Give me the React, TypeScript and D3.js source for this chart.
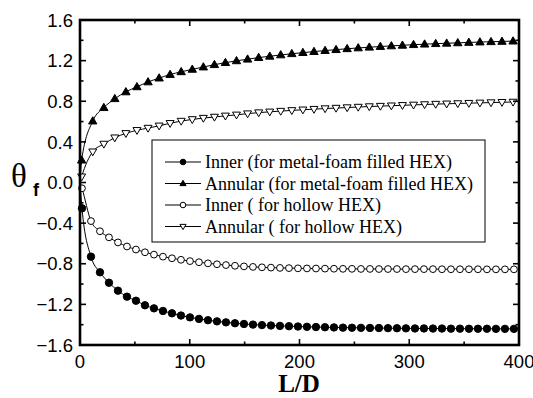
import React from "react";
import * as d3 from "d3";

const TRI_LD = [1.5, 11.6, 21.7, 31.7, 41.8, 51.9, 62.0, 72.1, 82.1, 92.2, 102.3, 112.4, 122.5, 132.5, 142.6, 152.7, 162.8, 172.9, 182.9, 193.0, 203.1, 213.2, 223.3, 233.3, 243.4, 253.5, 263.6, 273.7, 283.7, 293.8, 303.9, 314.0, 324.1, 334.1, 344.2, 354.3, 364.4, 374.5, 384.5, 394.6];
const CIRC_LD = [1.8, 10.0, 18.2, 26.4, 34.6, 42.8, 51.0, 59.2, 67.4, 75.6, 83.8, 92.0, 100.2, 108.4, 116.6, 124.8, 133.0, 141.2, 149.4, 157.6, 165.8, 174.0, 182.2, 190.4, 198.6, 206.8, 215.0, 223.2, 231.4, 239.6, 247.8, 256.0, 264.2, 272.4, 280.6, 288.8, 297.0, 305.2, 313.4, 321.6, 329.8, 338.0, 346.2, 354.4, 362.6, 370.8, 379.0, 387.2, 395.4];

const ANNULAR_FOAM = [0.22, 0.605, 0.737, 0.825, 0.892, 0.942, 0.99, 1.028, 1.063, 1.09, 1.114, 1.137, 1.16, 1.18, 1.198, 1.214, 1.23, 1.243, 1.256, 1.268, 1.279, 1.289, 1.299, 1.308, 1.317, 1.325, 1.332, 1.339, 1.345, 1.351, 1.357, 1.362, 1.367, 1.371, 1.375, 1.379, 1.383, 1.386, 1.389, 1.392];
const ANNULAR_HOLLOW = [0.057, 0.303, 0.379, 0.441, 0.484, 0.514, 0.536, 0.558, 0.583, 0.605, 0.621, 0.634, 0.645, 0.656, 0.666, 0.678, 0.688, 0.696, 0.703, 0.71, 0.716, 0.722, 0.728, 0.733, 0.738, 0.743, 0.748, 0.752, 0.756, 0.76, 0.764, 0.768, 0.772, 0.775, 0.778, 0.781, 0.784, 0.787, 0.79, 0.793];
const INNER_FOAM = [-0.254, -0.73, -0.884, -0.987, -1.065, -1.124, -1.164, -1.209, -1.239, -1.265, -1.288, -1.31, -1.328, -1.343, -1.356, -1.367, -1.377, -1.386, -1.393, -1.399, -1.404, -1.408, -1.412, -1.415, -1.418, -1.421, -1.423, -1.425, -1.427, -1.429, -1.43, -1.431, -1.432, -1.433, -1.434, -1.435, -1.436, -1.437, -1.437, -1.438, -1.438, -1.439, -1.439, -1.44, -1.44, -1.44, -1.441, -1.441, -1.441];
const INNER_HOLLOW = [-0.057, -0.38, -0.48, -0.54, -0.59, -0.63, -0.66, -0.687, -0.71, -0.73, -0.746, -0.761, -0.774, -0.785, -0.796, -0.805, -0.813, -0.82, -0.826, -0.831, -0.835, -0.838, -0.841, -0.843, -0.845, -0.846, -0.847, -0.848, -0.849, -0.85, -0.85, -0.851, -0.851, -0.852, -0.852, -0.852, -0.853, -0.853, -0.853, -0.853, -0.854, -0.854, -0.854, -0.854, -0.854, -0.855, -0.855, -0.855, -0.855];

const X_TICKS = [0, 100, 200, 300, 400];
const X_MINOR = [50, 150, 250, 350];
const Y_TICKS = [-1.6, -1.2, -0.8, -0.4, 0.0, 0.4, 0.8, 1.2, 1.6];
const Y_MINOR = [-1.4, -1.0, -0.6, -0.2, 0.2, 0.6, 1.0, 1.4];

const LEGEND = [
  { label: "Inner (for metal-foam filled HEX)", marker: "circle", filled: true },
  { label: "Annular (for metal-foam filled HEX)", marker: "tri", filled: true },
  { label: "Inner ( for hollow HEX)", marker: "circle", filled: false },
  { label: "Annular ( for hollow HEX)", marker: "tridown", filled: false },
];

const L = 80, R = 519, T = 20, B = 345;
const x = d3.scaleLinear().domain([0, 400]).range([L, R]);
const y = d3.scaleLinear().domain([-1.6, 1.6]).range([B, T]);

function Marker({ type, filled, cx, cy, s }: any) {
  const fill = filled ? "#000" : "#fff";
  if (type === "circle") return <circle cx={cx} cy={cy} r={s} fill={fill} stroke="#000" strokeWidth={1} />;
  const h = s * 1.9;
  const w = s * 2.2;
  if (type === "tri") {
    const p = `${cx},${cy - h * 0.6} ${cx - w / 2},${cy + h * 0.4} ${cx + w / 2},${cy + h * 0.4}`;
    return <polygon points={p} fill={fill} stroke="#000" strokeWidth={1} />;
  }
  const p = `${cx},${cy + h * 0.6} ${cx - w / 2},${cy - h * 0.4} ${cx + w / 2},${cy - h * 0.4}`;
  return <polygon points={p} fill={fill} stroke="#000" strokeWidth={1} />;
}

export default function App() {
  const line = d3.line<[number, number]>().x((d) => x(d[0])).y((d) => y(d[1])).curve(d3.curveMonotoneX);
  const series = [
    { xs: CIRC_LD, ys: INNER_FOAM, type: "circle", filled: true, s: 3.7 },
    { xs: TRI_LD, ys: ANNULAR_FOAM, type: "tri", filled: true, s: 3.8 },
    { xs: CIRC_LD, ys: INNER_HOLLOW, type: "circle", filled: false, s: 3.4 },
    { xs: TRI_LD, ys: ANNULAR_HOLLOW, type: "tridown", filled: false, s: 3.6 },
  ];
  const sans = "'Liberation Sans', Arial, sans-serif";
  const serif = "'Liberation Serif', 'Times New Roman', serif";
  return (
    <svg width={533} height={398} style={{ position: "absolute", left: 0, top: 0 }}>
      <rect x={0} y={0} width={533} height={398} fill="#fff" />
      {series.map((s, i) => {
        const pts: [number, number][] = [[0, 0], ...s.xs.map((v: number, j: number) => [v, s.ys[j]] as [number, number])];
        return <path key={"l" + i} d={line(pts) || ""} fill="none" stroke="#000" strokeWidth={1} />;
      })}
      {series.map((s, i) => (
        <g key={"m" + i}>
          {s.xs.map((v: number, j: number) => (
            <Marker key={j} type={s.type} filled={s.filled} cx={x(v)} cy={y(s.ys[j])} s={s.s} />
          ))}
        </g>
      ))}
      {/* frame */}
      <rect x={L} y={T} width={R - L} height={B - T} fill="none" stroke="#000" strokeWidth={2.6} />
      {X_TICKS.map((t) => (
        <g key={"xt" + t}>
          <line x1={x(t)} x2={x(t)} y1={B} y2={B - 6} stroke="#000" strokeWidth={1.6} />
          <line x1={x(t)} x2={x(t)} y1={T} y2={T + 6} stroke="#000" strokeWidth={1.6} />
          <text x={x(t)} y={368} textAnchor="middle" fontFamily={sans} fontSize={18.5}>{t}</text>
        </g>
      ))}
      {X_MINOR.map((t) => (
        <g key={"xm" + t}>
          <line x1={x(t)} x2={x(t)} y1={B} y2={B - 3.5} stroke="#000" strokeWidth={1.6} />
          <line x1={x(t)} x2={x(t)} y1={T} y2={T + 3.5} stroke="#000" strokeWidth={1.6} />
        </g>
      ))}
      {Y_TICKS.map((t) => (
        <g key={"yt" + t}>
          <line x1={L} x2={L + 6} y1={y(t)} y2={y(t)} stroke="#000" strokeWidth={1.6} />
          <line x1={R} x2={R - 6} y1={y(t)} y2={y(t)} stroke="#000" strokeWidth={1.6} />
          <text x={73} y={y(t)} dy="0.36em" textAnchor="end" fontFamily={sans} fontSize={18.5}>{d3.format(".1f")(t)}</text>
        </g>
      ))}
      {Y_MINOR.map((t) => (
        <g key={"ym" + t}>
          <line x1={L} x2={L + 3.5} y1={y(t)} y2={y(t)} stroke="#000" strokeWidth={1.6} />
          <line x1={R} x2={R - 3.5} y1={y(t)} y2={y(t)} stroke="#000" strokeWidth={1.6} />
        </g>
      ))}
      {/* axis titles */}
      <text x={11} y={187} fontFamily={serif} fontSize={33}>θ</text>
      <text x={33} y={196} fontFamily={sans} fontWeight="bold" fontSize={18}>f</text>
      <text x={299} y={392} textAnchor="middle" fontFamily={serif} fontWeight="bold" fontSize={25}>L/D</text>
      {/* legend */}
      <rect x={152} y={140} width={333} height={102} fill="#fff" stroke="#000" strokeWidth={1} />
      {LEGEND.map((d, i) => {
        const cy = 162 + i * 21.5;
        return (
          <g key={"lg" + i}>
            <line x1={165} x2={201} y1={cy} y2={cy} stroke="#000" strokeWidth={1} />
            <Marker type={d.marker} filled={d.filled} cx={183} cy={cy} s={2.8} />
            <text x={205} y={cy} dy="0.35em" fontFamily={serif} fontSize={18}>{d.label}</text>
          </g>
        );
      })}
    </svg>
  );
}
